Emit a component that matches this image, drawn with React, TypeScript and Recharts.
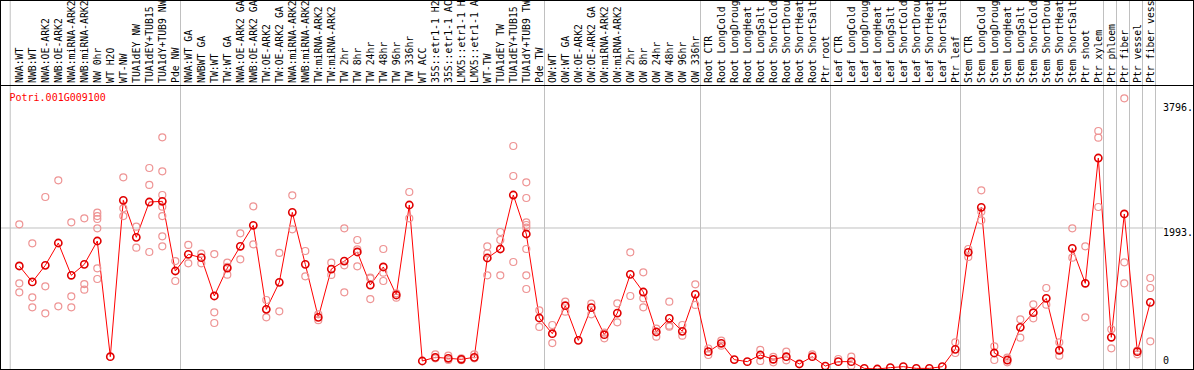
import { ComposedChart, Line, Scatter, XAxis, YAxis, ReferenceLine } from "recharts";

const title = "Potri.001G009100";

// sample names as printed in the header (cut to 14 characters there)
const categories = [
  "NWA:WT", "NWB:WT", "NWA:OE-ARK2", "NWB:OE-ARK2", "NWA:miRNA-ARK2", "NWB:miRNA-ARK2",
  "NW 0hr", "WT H2O", "WT-NW", "TUA1dEY NW", "TUA1dEY+TUB15", "TUA1dY+TUB9 NW", "Pde NW",
  "NWA:WT GA", "NWBWT GA", "TW:WT", "TW:WT GA", "NWA:OE-ARK2 GA", "NWB:OE-ARK2 GA",
  "TW:OE-ARK2", "TW:OE-ARK2 GA", "NWA:miRNA-ARK2", "NWB:miRNA-ARK2", "TW:miRNA-ARK2",
  "TW:miRNA-ARK2", "TW 2hr", "TW 8hr", "TW 24hr", "TW 48hr", "TW 96hr", "TW 336hr", "WT ACC",
  "35S::etr1-1 H2", "35S::etr1-1 AC", "LMX5::etr1-1 H", "LMX5::etr1-1 A", "WT-TW",
  "TUA1dEY TW", "TUA1dEY+TUB15", "TUA1dY+TUB9 TW", "Pde TW",
  "OW:WT", "OW:WT GA", "OW:OE-ARK2", "OW:OE-ARK2 GA", "OW:miRNA-ARK2", "OW:miRNA-ARK2",
  "OW 2hr", "OW 8hr", "OW 24hr", "OW 48hr", "OW 96hr", "OW 336hr",
  "Root CTR", "Root LongCold", "Root LongDroug", "Root LongHeat", "Root LongSalt",
  "Root ShortCold", "Root ShortDrou", "Root ShortHeat", "Root ShortSalt", "Ptr root",
  "Leaf CTR", "Leaf LongCold", "Leaf LongDroug", "Leaf LongHeat", "Leaf LongSalt",
  "Leaf ShortCold", "Leaf ShortDrou", "Leaf ShortHeat", "Leaf ShortSalt", "Ptr leaf",
  "Stem CTR", "Stem LongCold", "Stem LongDroug", "Stem LongHeat", "Stem LongSalt",
  "Stem ShortCold", "Stem ShortDrou", "Stem ShortHeat", "Stem ShortSalt", "Ptr shoot",
  "Ptr xylem", "Ptr phloem", "Ptr fiber", "Ptr vessel", "Ptr fiber vess",
];

// sizes of the sample groups, separated by grey lines
const groupSizes = [13, 28, 12, 10, 10, 11, 1, 1, 1, 1];

const means = [
  1456, 1230, 1465, 1781, 1324, 1479, 1809, 174, 2384, 1861, 2360, 2370, 1385,
  1621, 1574, 1032, 1427, 1734, 2031, 843, 1225, 2214, 1479, 730, 1413, 1526, 1654, 1187,
  1442, 1046, 2318, 113, 165, 151, 137, 165, 1569, 1696, 2459, 1908, 721,
  499, 895, 405, 867, 485, 791, 1338, 1088, 523, 716, 532, 1055,
  245, 363, 132, 104, 198, 137, 174, 71, 174, 42,
  104, 104, 9, 0, 19, 33, 9, 9, 33, 278,
  1649, 2285, 226, 127, 589, 796, 999, 264, 1705, 1211, 2982,
  448, 2191, 245, 942,
];

const replicates: number[][] = [
  [2045, 1211, 1084], [1776, 1013, 872], [2431, 1168, 787], [2667, 886], [2073, 1027, 872],
  [2129, 1201, 1121], [2210, 2162, 2120, 1988, 1423, 1272], [], [2709, 2271, 2162],
  [2012, 1715], [2841, 2601, 1654], [3274, 2794, 2459, 2294, 2162, 1875, 1734], [1526, 1244],
  [1753, 1493], [1630, 1493], [1625, 801, 650], [1503, 1445, 1333], [1917, 1550], [2299, 1762],
  [975, 730], [1640, 815], [2455, 1974], [1668, 1310], [773, 690], [1503, 1329],
  [1988, 1465, 1084], [1823, 1691, 1451], [1291, 1281, 989], [1696, 1362, 1244], [1069, 1008],
  [2502, 2129], [], [207, 151], [188, 127], [150, 125], [207, 151], [1734, 1635, 1324],
  [1936, 1823, 1324], [3152, 2728, 1512], [2638, 2417, 2073, 2035, 1998, 1696, 1324, 1131],
  [829, 594],
  [622, 367], [952, 810], [], [923, 773], [514, 433], [928, 660], [1649, 1032],
  [1366, 999, 872], [570, 457], [952, 612, 598], [622, 471], [1197, 905],
  [290, 198], [400, 330], [], [], [269, 113], [170, 94], [245, 122], [], [207], [],
  [141], [174, 47], [], [], [], [], [], [], [], [377, 226],
  [1696, 1583], [2525, 2224, 2101], [320, 127], [160, 94], [702, 443], [914, 716],
  [1145, 909], [377, 188], [1988, 1574], [1734, 730], [3364, 3270, 2290],
  [561, 292], [3826, 1508, 1211], [259, 207], [1286, 1145, 391],
];

const yTicks = [0, 1993, 3796];

const W = 1194;
const H = 370;
const FONT = '"DejaVu Sans Mono", "Liberation Mono", monospace';
const GRID = "#c0c0c0";

const lineData = means.map((mean, i) => ({ i, mean }));
const repData = replicates.flatMap((r, i) => r.map((v) => ({ i, v })));

// grey separators: one before the first group, then just after each group
const separators: number[] = [-0.7];
let acc = 0;
for (const g of groupSizes) {
  acc += g;
  separators.push(acc - 0.6);
}

function CatTick({ x, payload }: any) {
  return (
    <text
      transform={`translate(${x + 4},83) rotate(-90)`}
      fontFamily={FONT}
      fontSize={9.8}
      fill="#000"
    >
      {categories[payload.value]}
    </text>
  );
}

function ValTick({ y, payload }: any) {
  const v = payload.value;
  const dy = v === 0 ? -5 : v === yTicks[yTicks.length - 1] ? 10.5 : 8;
  return (
    <text x={1163} y={y + dy} fontFamily={FONT} fontSize={10} fill="#000">
      {v === 0 ? "0" : `${v}.`}
    </text>
  );
}

function RepDot(p: any) {
  return <circle cx={p.cx} cy={p.cy} r={3.5} fill="none" stroke="#ee9494" strokeWidth={1.2} />;
}

export default function App() {
  return (
    <div style={{ position: "fixed", left: 0, top: 0, width: W, height: H, background: "#fff" }}>
      <ComposedChart width={W} height={H} data={lineData} margin={{ top: 0, right: 0, left: 0, bottom: 1 }}>
        <XAxis
          dataKey="i"
          type="number"
          orientation="top"
          height={85}
          domain={[-1.485, 87.515]}
          allowDataOverflow
          ticks={categories.map((_, i) => i)}
          interval={0}
          tick={<CatTick />}
          axisLine={false}
          tickLine={false}
        />
        <YAxis
          orientation="right"
          width={37}
          domain={[0, 4014]}
          allowDataOverflow
          ticks={yTicks}
          interval={0}
          tick={<ValTick />}
          axisLine={false}
          tickLine={false}
        />
        {separators.map((s) => (
          <ReferenceLine
            key={s}
            segment={[{ x: s, y: 0 }, { x: s, y: 5400 }]}
            stroke={GRID}
            strokeWidth={1}
            ifOverflow="visible"
          />
        ))}
        <ReferenceLine
          segment={[{ x: -1.485, y: yTicks[1] }, { x: 88, y: yTicks[1] }]}
          stroke={GRID}
          strokeWidth={1}
          ifOverflow="visible"
        />
        <Scatter data={repData} dataKey="v" shape={RepDot} isAnimationActive={false} />
        <Line
          type="linear"
          dataKey="mean"
          stroke="#ff0000"
          strokeWidth={1}
          dot={{ r: 3.6, stroke: "#e00000", strokeWidth: 1.6, fill: "none" }}
          activeDot={false}
          isAnimationActive={false}
        />
      </ComposedChart>
      <svg
        width={W}
        height={H}
        style={{ position: "absolute", left: 0, top: 0, pointerEvents: "none" }}
      >
        <text x={9.5} y={101} fontFamily={FONT} fontSize={10} fill="#ff0000">
          {title}
        </text>
        <rect x={0.5} y={0.5} width={W - 1} height={H - 1} fill="none" stroke="#000" />
        <line x1={0} y1={85.5} x2={W} y2={85.5} stroke="#000" />
      </svg>
    </div>
  );
}
